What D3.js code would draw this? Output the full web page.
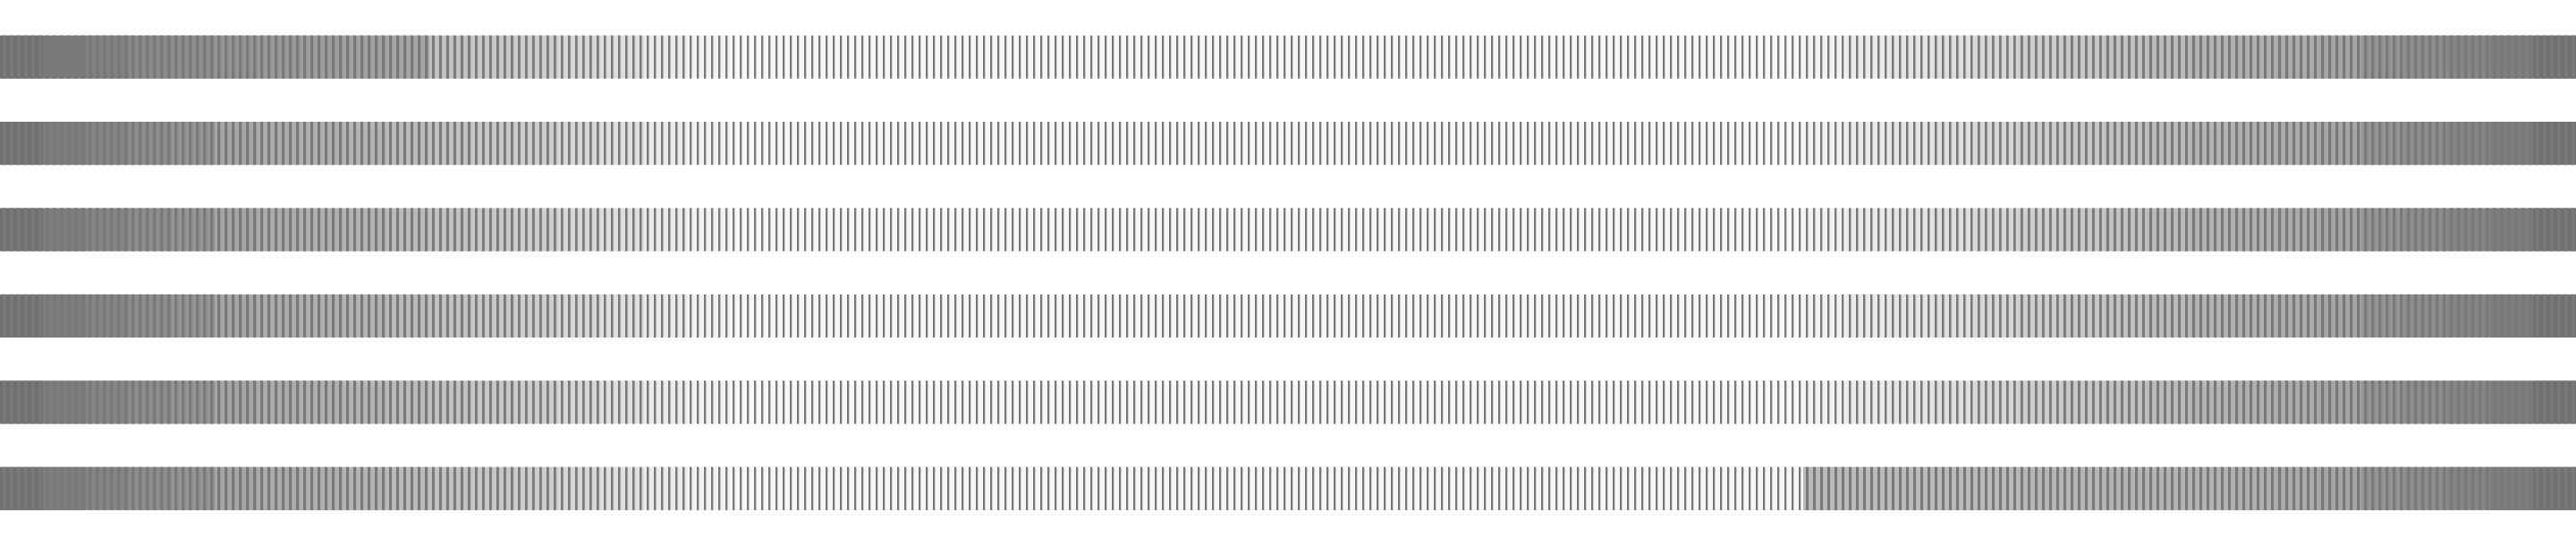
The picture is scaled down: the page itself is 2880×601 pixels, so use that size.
<!DOCTYPE html>
<html>
<head>
<meta charset="utf-8">
<title>strips</title>
<script src="https://cdn.jsdelivr.net/npm/d3@7"></script>
<style>
	html, body { margin: 0; padding: 0; background: #fff; }
	svg { display: block; }
</style>
</head>
<body>
<div id="chart"></div>
<script>
// one entry per strip, top to bottom
var rows = ["r1", "r2", "r3", "r4", "r5", "r6"];

// longitude of each 6 degree bin start, -180 .. 174
var binStarts = d3.range(-180, 180, 6);

// shade of each bin (0 = open gaps, 1 = solid)
var shadeR1 = [0.97, 0.90, 0.85, 0.80, 0.76, 0.72, 0.69, 0.66, 0.63, 0.60,
	0.42, 0.38, 0.33, 0.28, 0.22, 0.14, 0.09, 0.06, 0.05, 0.05,
	0.05, 0.05, 0.05, 0.05, 0.05, 0.05, 0.05, 0.05, 0.05, 0.05,
	0.05, 0.05, 0.05, 0.05, 0.05, 0.05, 0.05, 0.05, 0.05, 0.05,
	0.05, 0.06, 0.09, 0.14, 0.18, 0.22, 0.28, 0.33, 0.38, 0.42,
	0.47, 0.50, 0.54, 0.57, 0.60, 0.72, 0.77, 0.82, 0.88, 0.97];
var shadeR2 = [0.97, 0.88, 0.82, 0.77, 0.72, 0.60, 0.57, 0.54, 0.50, 0.47,
	0.42, 0.38, 0.33, 0.28, 0.22, 0.14, 0.09, 0.06, 0.05, 0.05,
	0.05, 0.05, 0.05, 0.05, 0.05, 0.05, 0.05, 0.05, 0.05, 0.05,
	0.05, 0.05, 0.05, 0.05, 0.05, 0.05, 0.05, 0.05, 0.05, 0.05,
	0.05, 0.06, 0.09, 0.14, 0.18, 0.22, 0.28, 0.33, 0.38, 0.42,
	0.47, 0.50, 0.54, 0.57, 0.60, 0.72, 0.77, 0.82, 0.88, 0.97];
var shadeR3 = [0.97, 0.88, 0.82, 0.77, 0.72, 0.60, 0.57, 0.54, 0.50, 0.47,
	0.42, 0.38, 0.33, 0.28, 0.22, 0.14, 0.09, 0.06, 0.05, 0.05,
	0.05, 0.05, 0.05, 0.05, 0.05, 0.05, 0.05, 0.05, 0.05, 0.05,
	0.05, 0.05, 0.05, 0.05, 0.05, 0.05, 0.05, 0.05, 0.05, 0.05,
	0.05, 0.06, 0.09, 0.14, 0.18, 0.22, 0.28, 0.33, 0.38, 0.42,
	0.47, 0.50, 0.54, 0.57, 0.60, 0.72, 0.77, 0.82, 0.88, 0.97];
var shadeR4 = [0.97, 0.88, 0.82, 0.77, 0.72, 0.60, 0.57, 0.54, 0.50, 0.47,
	0.42, 0.38, 0.33, 0.28, 0.22, 0.14, 0.09, 0.06, 0.05, 0.05,
	0.05, 0.05, 0.05, 0.05, 0.05, 0.05, 0.05, 0.05, 0.05, 0.05,
	0.05, 0.05, 0.05, 0.05, 0.05, 0.05, 0.05, 0.05, 0.05, 0.05,
	0.05, 0.06, 0.09, 0.14, 0.18, 0.22, 0.28, 0.33, 0.38, 0.42,
	0.47, 0.50, 0.54, 0.57, 0.60, 0.72, 0.77, 0.82, 0.88, 0.97];
var shadeR5 = [0.97, 0.88, 0.82, 0.77, 0.72, 0.60, 0.57, 0.54, 0.50, 0.47,
	0.42, 0.38, 0.33, 0.28, 0.22, 0.14, 0.09, 0.06, 0.05, 0.05,
	0.05, 0.05, 0.05, 0.05, 0.05, 0.05, 0.05, 0.05, 0.05, 0.05,
	0.05, 0.05, 0.05, 0.05, 0.05, 0.05, 0.05, 0.05, 0.05, 0.05,
	0.05, 0.06, 0.09, 0.14, 0.18, 0.22, 0.28, 0.33, 0.38, 0.42,
	0.47, 0.50, 0.54, 0.57, 0.60, 0.72, 0.77, 0.82, 0.88, 0.97];
var shadeR6 = [0.97, 0.88, 0.82, 0.77, 0.72, 0.60, 0.57, 0.54, 0.50, 0.47,
	0.42, 0.38, 0.33, 0.28, 0.22, 0.14, 0.09, 0.06, 0.05, 0.05,
	0.05, 0.05, 0.05, 0.05, 0.05, 0.05, 0.05, 0.05, 0.05, 0.05,
	0.05, 0.05, 0.05, 0.05, 0.05, 0.05, 0.05, 0.05, 0.05, 0.05,
	0.05, 0.05, 0.48, 0.47, 0.47, 0.48, 0.48, 0.49, 0.49, 0.50,
	0.50, 0.52, 0.54, 0.57, 0.60, 0.72, 0.77, 0.82, 0.88, 0.97];

var shades = [shadeR1, shadeR2, shadeR3, shadeR4, shadeR5, shadeR6];

var width = 2880;
var height = 601;
var margin = {top: 15.5, right: 0, bottom: 7, left: 0};

var svg = d3.select("#chart").append("svg")
	.attr("width", width)
	.attr("height", height);

var x = d3.scaleLinear()
	.domain([-180, 180])
	.range([margin.left, width - margin.right]);

var y = d3.scaleBand()
	.domain(rows)
	.range([margin.top, height - margin.bottom])
	.paddingInner(0.5)
	.paddingOuter(0.25);

// shade -> gap fill opacity and line width
var gapOpacity = d3.scaleLinear().domain([0, 1]).range([0, 1]);
var lineWidth = d3.scaleLinear().domain([0, 1]).range([2.2, 4]);

// one cell per degree, shade taken from its 6 degree bin
var degrees = d3.range(-180, 180);
var binOf = function (deg) {
	return d3.bisectRight(binStarts, deg) - 1;
};

rows.forEach(function (row, r) {
	var g = svg.append("g").attr("class", "strip " + row);
	var cells = degrees.map(function (deg) {
		return {deg: deg, shade: shades[r][binOf(deg)]};
	});

	// gap fill
	g.selectAll("rect.gap")
		.data(cells)
		.join("rect")
		.attr("class", "gap")
		.attr("x", function (d) { return x(d.deg); })
		.attr("y", y(row))
		.attr("width", function (d) { return x(d.deg + 1) - x(d.deg); })
		.attr("height", y.bandwidth())
		.attr("fill", "#6b6b6b")
		.attr("fill-opacity", function (d) { return gapOpacity(d.shade); });

	// the line of each degree
	g.selectAll("rect.tick")
		.data(cells)
		.join("rect")
		.attr("class", "tick")
		.attr("x", function (d) { return x(d.deg) + 3; })
		.attr("y", y(row))
		.attr("width", function (d) { return lineWidth(d.shade); })
		.attr("height", y.bandwidth())
		.attr("fill", "#797979");
});
</script>
</body>
</html>
